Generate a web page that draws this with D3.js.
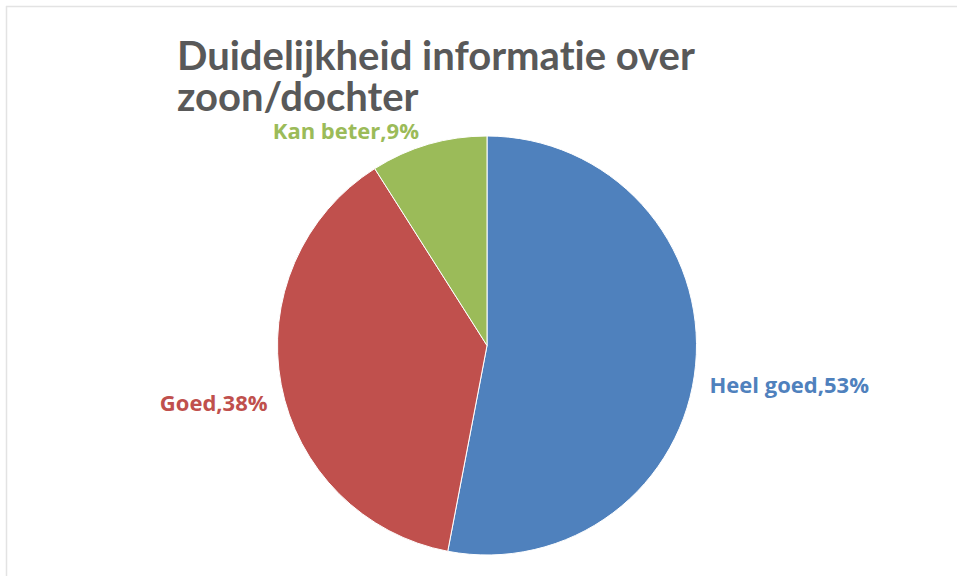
<!DOCTYPE html>
<html>
<head>
<meta charset="utf-8">
<script src="https://cdn.jsdelivr.net/npm/d3@7"></script>
<style>
	body { margin: 0; background: #ffffff; }
	svg { display: block; }
	text { font-variant-ligatures: none; }
</style>
</head>
<body>
<svg id="chart" width="957" height="576"></svg>
<script>
'use strict';

// data
var arrayCategories = ['Heel goed', 'Goed', 'Kan beter'];
var arrayValues = [53, 38, 9];
var arrayColors = ['#4f81bd', '#c0504d', '#9bbb59'];
var arrayTitleLines = ['Duidelijkheid informatie over', 'zoon/dochter'];

var svg = d3.select('#chart');
var nWidth = +svg.attr('width');
var nHeight = +svg.attr('height');

// chart frame (only top and left edge show in the crop)
svg.append('line')
	.attr('x1', 6).attr('y1', 6.5).attr('x2', nWidth).attr('y2', 6.5)
	.attr('stroke', '#e3e3e3').attr('stroke-width', 1.5);
svg.append('line')
	.attr('x1', 6.5).attr('y1', 6).attr('x2', 6.5).attr('y2', nHeight)
	.attr('stroke', '#e3e3e3').attr('stroke-width', 1.5);

// title
var title = svg.append('text')
	.attr('x', 177)
	.attr('y', 70)
	.attr('fill', '#595959')
	.style('font-family', 'Lato, "Open Sans", sans-serif')
	.style('font-weight', 'bold')
	.style('font-size', '40px');

title.selectAll('tspan')
	.data(arrayTitleLines)
	.enter()
	.append('tspan')
	.attr('x', 177)
	.attr('dy', function(d, i) { return i == 0 ? 0 : 41; })
	.text(function(d) { return d; });

// pie
var nCx = 487;
var nCy = 345.5;
var nRadius = 209.5;

var pie = d3.pie()
	.sort(null)
	.value(function(d) { return d; });

var arcs = pie(arrayValues);

var arc = d3.arc()
	.innerRadius(0)
	.outerRadius(nRadius);

var gPie = svg.append('g')
	.attr('transform', 'translate(' + nCx + ',' + nCy + ')');

gPie.selectAll('path')
	.data(arcs)
	.enter()
	.append('path')
	.attr('d', arc)
	.attr('fill', function(d, i) { return arrayColors[i]; })
	.attr('stroke', '#ffffff')
	.attr('stroke-width', 1);

// data labels, placed outside the slice
var labelArc = d3.arc()
	.innerRadius(nRadius + 20)
	.outerRadius(nRadius + 20);

// Excel's own label placement, nudged per slice
var labelShift = { 'Heel goed': [-6, 26], 'Goed': [6, 22], 'Kan beter': [-4, 14] };

gPie.selectAll('text')
	.data(arcs)
	.enter()
	.append('text')
	.attr('x', function(d, i) { return labelArc.centroid(d)[0] + labelShift[arrayCategories[i]][0]; })
	.attr('y', function(d, i) { return labelArc.centroid(d)[1] + labelShift[arrayCategories[i]][1]; })
	.attr('text-anchor', function(d) {
		var nMid = (d.startAngle + d.endAngle) / 2;
		return nMid < Math.PI ? 'start' : 'end';
	})
	.attr('fill', function(d, i) { return arrayColors[i]; })
	.style('font-family', '"Open Sans", Lato, sans-serif')
	.style('font-weight', 'bold')
	.style('font-size', '22px')
	.text(function(d, i) { return arrayCategories[i] + ',' + arrayValues[i] + '%'; });
</script>
</body>
</html>
